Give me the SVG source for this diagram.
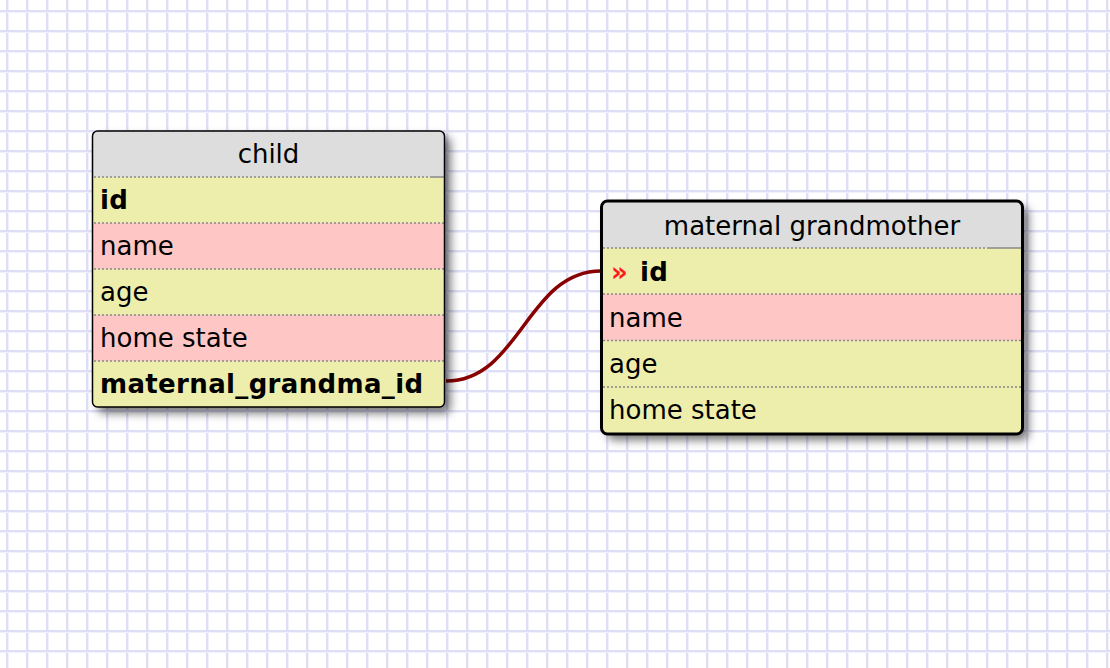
<svg xmlns="http://www.w3.org/2000/svg" width="1110" height="668" viewBox="0 0 1110 668">
  <style>
    .t { font-family: "DejaVu Sans", Verdana, sans-serif; font-size: 26px; fill: #000; }
    .b { font-weight: bold; letter-spacing: 0.35px; }
    .hdr { fill: #dddddd; }
    .yel { fill: #eeeeac; }
    .pnk { fill: #ffc6c6; }
    .sep { stroke: #888; stroke-width: 1.5; stroke-dasharray: 2 2; fill: none; }
    .sol { stroke: #888; stroke-width: 1.5; fill: none; }
    .conn { stroke: #880000; stroke-width: 3.5; fill: none; }
  </style>
  <defs>
    <pattern id="grid" patternUnits="userSpaceOnUse" x="0" y="0" width="20" height="20">
      <rect x="0" y="0" width="20" height="20" fill="#ffffff"/>
      <rect x="6" y="0" width="2" height="20" fill="#dedef6"/>
      <rect x="8" y="0" width="1" height="20" fill="#f1f1fc"/>
      <rect x="0" y="10" width="20" height="2" fill="#dedef6"/>
      <rect x="0" y="12" width="20" height="1" fill="#f1f1fc"/>
    </pattern>
    <filter id="shadow" x="-10%" y="-10%" width="130%" height="130%">
      <feDropShadow dx="6" dy="6" stdDeviation="5" flood-color="#000" flood-opacity="0.55"/>
    </filter>
    <clipPath id="clipChild"><rect x="92.5" y="131" width="352" height="276" rx="5"/></clipPath>
    <clipPath id="clipGm"><rect x="601.5" y="201" width="421" height="233" rx="6"/></clipPath>
  </defs>

  <rect x="0" y="0" width="1110" height="668" fill="url(#grid)"/>

  <g id="connectors">
    <path class="conn" d="M446,381 C520,381 527,271 601,271"/>
  </g>

  <g id="node-child">
    <rect x="92.5" y="131" width="352" height="276" rx="5" fill="#dddddd" filter="url(#shadow)"/>
    <g clip-path="url(#clipChild)">
      <rect class="hdr" x="92" y="131" width="353" height="46"/>
      <rect class="yel" x="92" y="177" width="353" height="46"/>
      <rect class="pnk" x="92" y="223" width="353" height="46"/>
      <rect class="yel" x="92" y="269" width="353" height="46"/>
      <rect class="pnk" x="92" y="315" width="353" height="46"/>
      <rect class="yel" x="92" y="361" width="353" height="46"/>
      <line class="sep" x1="94" y1="177" x2="430" y2="177"/>
      <line class="sol" x1="430" y1="177" x2="444" y2="177"/>
      <line class="sep" x1="94" y1="223" x2="444" y2="223"/>
      <line class="sep" x1="94" y1="269" x2="444" y2="269"/>
      <line class="sep" x1="94" y1="315" x2="444" y2="315"/>
      <line class="sep" x1="94" y1="361" x2="444" y2="361"/>
    </g>
    <rect x="92.5" y="131" width="352" height="276" rx="5" fill="none" stroke="#000" stroke-width="1.5"/>
    <text class="t" x="268.5" y="163" text-anchor="middle">child</text>
    <text class="t b" x="100" y="209">id</text>
    <text class="t" x="100" y="255">name</text>
    <text class="t" x="100" y="301">age</text>
    <text class="t" x="100" y="347">home state</text>
    <text class="t b" x="100" y="393">maternal_grandma_id</text>
  </g>

  <g id="node-maternal-grandmother">
    <rect x="601.5" y="201" width="421" height="233" rx="6" fill="#dddddd" filter="url(#shadow)"/>
    <g clip-path="url(#clipGm)">
      <rect class="hdr" x="601" y="201" width="422" height="47"/>
      <rect class="yel" x="601" y="248" width="422" height="46"/>
      <rect class="pnk" x="601" y="294" width="422" height="46.5"/>
      <rect class="yel" x="601" y="340.5" width="422" height="46.5"/>
      <rect class="yel" x="601" y="387" width="422" height="47"/>
      <line class="sep" x1="603" y1="248" x2="987" y2="248"/>
      <line class="sol" x1="987" y1="248" x2="1021" y2="248"/>
      <line class="sep" x1="603" y1="294" x2="1021" y2="294"/>
      <line class="sep" x1="603" y1="340.5" x2="1021" y2="340.5"/>
      <line class="sep" x1="603" y1="387" x2="1021" y2="387"/>
    </g>
    <rect x="601.5" y="201" width="421" height="233" rx="6" fill="none" stroke="#000" stroke-width="3"/>
    <text class="t" x="812" y="235" text-anchor="middle">maternal grandmother</text>
    <text class="t b" x="611" y="281" style="fill:#ff1a1a">»</text>
    <text class="t b" x="640" y="281">id</text>
    <text class="t" x="609" y="327">name</text>
    <text class="t" x="609" y="373">age</text>
    <text class="t" x="609" y="419">home state</text>
  </g>
</svg>
